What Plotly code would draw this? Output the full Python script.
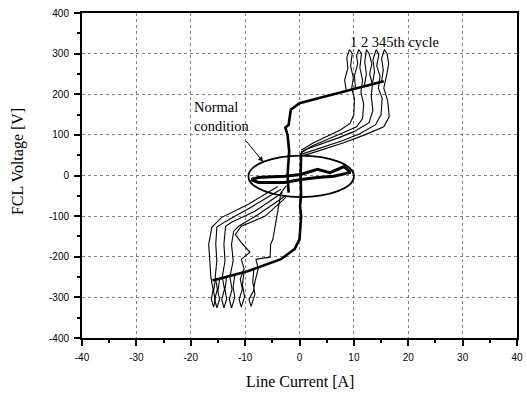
import plotly.graph_objects as go

# ---- data (Line Current [A], FCL Voltage [V]) ----
# common thick backbone (lower branch and upper branch)
I_back_low = [-16.0, -14.9, -9.4, -3.4, -0.9, 0.0, 0.3, 0.1, 0.3, 0.2, 0.3]
V_back_low = [-258, -255, -235, -206, -181, -157, -100, -75, -50, 0, 56]
I_back_up = [-2.0, -2.2, -1.9, -2.2, -2.6, -2.0, -1.6, 0.0, 4.5, 10.0, 13.5, 15.5]
V_back_up = [-42, 0, 60, 100, 118, 125, 162, 178, 194, 213, 224, 232]

# normal-condition loop
I_normal = [-8.9, -7.6, -5.0, -2.7, 0.2, 3.3, 5.6, 8.2, 9.2, 9.2, 6.3, 3.3, 0.2, -2.7, -5.0, -7.6, -8.9]
V_normal = [-10, -5, -3, -2, 2.5, 15, 7, 22, 10, 7, -2, -5, -10, -17, -17, -17, -10]

# fault cycles (positive excursion, then negative excursion)
I_c1 = [8.6, 8.3, 8.9, 8.7, 9.2, 9.7, 9.4, 9.9, 9.6, 10.1, 10.0, 9.3, 7.5, 5.0, 2.5, 0.3, None,
        -8.4, -8.6, -8.2, -8.9, -9.3, -8.5, -8.2, -7.6, -8.0, -5.4, -5.3, -4.9, -3.4, -2.4]
V_c1 = [208, 235, 265, 290, 310, 300, 270, 240, 215, 190, 150, 128, 112, 96, 80, 62, None,
        -232, -262, -292, -322, -305, -285, -262, -230, -206, -201, -169, -157, -42, -25]

I_c2 = [10.3, 10.1, 10.7, 10.5, 10.9, 11.4, 11.1, 11.6, 11.3, 11.8, 11.6, 10.5, 8.0, 5.0, 2.5, 0.3, None,
        -10.2, -10.5, -10.1, -10.7, -11.1, -10.5, -10.9, -10.2, -10.7, -9.1, -10.7, -11.8, -10.7, -6.3, -2.5]
V_c2 = [215, 245, 275, 295, 310, 300, 265, 235, 205, 175, 140, 120, 105, 88, 74, 58, None,
        -238, -270, -298, -324, -305, -280, -255, -230, -206, -189, -165, -145, -125, -100, -54]

I_c3 = [11.9, 12.3, 12.0, 12.3, 12.8, 13.3, 12.9, 13.4, 13.2, 13.5, 12.8, 10.0, 7.0, 4.0, 1.5, 0.3, None,
        -11.9, -12.2, -11.9, -12.5, -12.9, -12.4, -12.8, -12.2, -12.5, -12.1, -11.2, -7.6, -2.7]
V_c3 = [220, 250, 280, 310, 300, 275, 250, 225, 195, 160, 130, 108, 92, 78, 66, 55, None,
        -245, -275, -300, -326, -305, -280, -250, -210, -169, -137, -125, -96, -51]

I_c4 = [13.4, 13.8, 13.5, 14.1, 14.6, 14.2, 14.8, 14.5, 15.2, 15.0, 14.0, 11.0, 8.0, 4.5, 1.5, 0.3, None,
        -13.4, -13.7, -13.4, -13.9, -14.3, -13.8, -14.2, -13.7, -13.9, -13.6, -12.5, -8.2, -3.1]
V_c4 = [226, 255, 285, 310, 298, 270, 245, 215, 190, 150, 125, 102, 86, 70, 58, 52, None,
        -250, -280, -305, -326, -305, -280, -250, -210, -169, -125, -115, -88, -42]

I_c5 = [15.1, 15.4, 15.1, 15.6, 16.1, 16.4, 16.0, 15.5, 16.2, 16.5, 15.5, 12.0, 8.0, 4.5, 1.5, 0.3, None,
        -14.7, -15.0, -14.7, -15.2, -15.6, -15.1, -15.5, -15.2, -15.4, -15.2, -13.6, -8.9, -3.4]
V_c5 = [232, 260, 288, 310, 300, 275, 245, 215, 185, 145, 120, 100, 80, 64, 52, 48, None,
        -255, -285, -305, -326, -305, -280, -250, -210, -169, -127, -113, -78, -34]

I_c6 = [-15.5, -15.8, -15.5, -15.8, -16.2, -15.9, -16.3, -16.5, -16.7, -16.1, -14.3, -9.4, -4.0]
V_c6 = [-257, -285, -305, -324, -305, -280, -250, -210, -169, -127, -103, -71, -27]

x_ticks = [-40, -30, -20, -10, 0, 10, 20, 30, 40]
y_ticks = [-400, -300, -200, -100, 0, 100, 200, 300, 400]

cycles = [(I_c1, V_c1), (I_c2, V_c2), (I_c3, V_c3), (I_c4, V_c4), (I_c5, V_c5), (I_c6, V_c6)]

fig = go.Figure()
for xs, ys in cycles:
    fig.add_trace(go.Scatter(x=xs, y=ys, mode="lines", line=dict(color="black", width=1.1),
                             showlegend=False, hoverinfo="skip"))
fig.add_trace(go.Scatter(x=I_back_low, y=V_back_low, mode="lines",
                         line=dict(color="black", width=2.6), showlegend=False))
fig.add_trace(go.Scatter(x=I_back_up, y=V_back_up, mode="lines",
                         line=dict(color="black", width=2.6), showlegend=False))
fig.add_trace(go.Scatter(x=I_normal, y=V_normal, mode="lines",
                         line=dict(color="black", width=3), showlegend=False))

# ellipse around normal condition
fig.add_shape(type="circle", xref="x", yref="y", x0=-9.4, x1=10.0, y0=-53, y1=49,
              line=dict(color="black", width=1.8))

serif = "Liberation Serif, Times New Roman, serif"
fig.add_annotation(x=-6.7, y=34, ax=-10.0, ay=88, xref="x", yref="y", axref="x", ayref="y",
                   showarrow=True, arrowhead=2, arrowsize=1, arrowwidth=1, arrowcolor="black", text="")
fig.add_annotation(x=-19.8, y=145, xref="x", yref="y", text="Normal<br>condition",
                   showarrow=False, xanchor="left", yanchor="middle", align="left",
                   font=dict(family=serif, size=14.5, color="black"))
fig.add_annotation(x=9.0, y=328, xref="x", yref="y", text="1 2 345th cycle",
                   showarrow=False, xanchor="left", yanchor="middle",
                   font=dict(family=serif, size=14.5, color="black"))
fig.add_annotation(x=0.5, y=-0.135, xref="paper", yref="paper", text="Line Current [A]",
                   showarrow=False, xanchor="center", yanchor="middle",
                   font=dict(family=serif, size=16, color="black"))
fig.add_annotation(x=-0.147, y=0.5415, xref="paper", yref="paper", text="FCL Voltage [V]",
                   showarrow=False, xanchor="center", yanchor="middle", textangle=-90,
                   font=dict(family=serif, size=16, color="black"))

axis_common = dict(showline=True, linecolor="black", linewidth=2, mirror=True,
                   ticks="outside", ticklen=6, tickwidth=1.5, tickcolor="black",
                   showgrid=True, gridcolor="#808080", griddash="dot", gridwidth=1,
                   zeroline=False,
                   tickfont=dict(family="Liberation Sans, Arial, sans-serif", size=10, color="black"),
                   minor=dict(ticks="outside", ticklen=3, tickcolor="black", tickwidth=1.5, showgrid=False))

fig.update_xaxes(range=[-40, 40], tickvals=x_ticks, ticktext=[str(v) for v in x_ticks],
                 minor_dtick=5, ticklabelstandoff=3, **axis_common)
fig.update_yaxes(range=[-400, 400], tickvals=y_ticks, ticktext=[str(v) for v in y_ticks],
                 minor_dtick=50, ticklabelstandoff=3, **axis_common)

fig.update_layout(width=527, height=394, margin=dict(l=82, r=4, t=13, b=56),
                  paper_bgcolor="white", plot_bgcolor="white", showlegend=False)

fig.write_html("out.html")
